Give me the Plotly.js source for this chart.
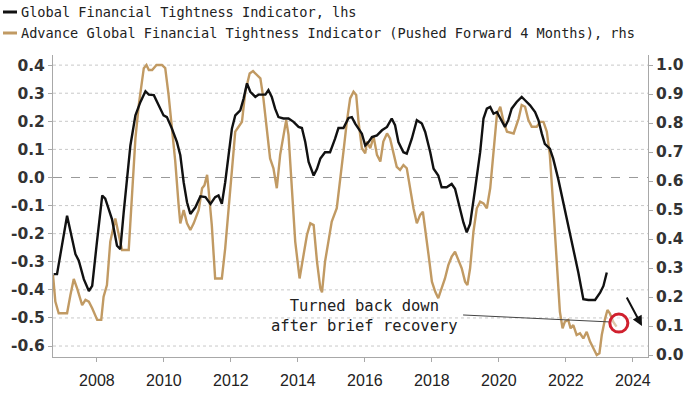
<!DOCTYPE html>
<html>
<head>
<meta charset="utf-8">
<script src="https://cdn.plot.ly/plotly-3.0.1.min.js"></script>
<style>html,body{margin:0;padding:0;background:#fff;}#chart{width:700px;height:394px;}</style>
</head>
<body>
<div id="chart"></div>
<script>
// Global Financial Tightness Indicator (lhs)
const gftiYears = [2006.71,2006.81,2007.11,2007.36,2007.46,2007.61,2007.76,2007.86,2008.00,2008.16,2008.25,2008.35,2008.45,2008.60,2008.70,2008.80,2008.90,2009.00,2009.15,2009.30,2009.45,2009.55,2009.70,2009.84,2009.99,2010.09,2010.24,2010.39,2010.49,2010.59,2010.69,2010.79,2010.94,2011.09,2011.24,2011.39,2011.53,2011.63,2011.73,2011.83,2011.93,2012.03,2012.13,2012.28,2012.38,2012.48,2012.58,2012.73,2012.83,2013.03,2013.12,2013.22,2013.32,2013.42,2013.57,2013.72,2013.87,2014.02,2014.12,2014.22,2014.32,2014.47,2014.57,2014.67,2014.81,2014.96,2015.11,2015.21,2015.36,2015.51,2015.61,2015.71,2015.91,2016.01,2016.11,2016.21,2016.36,2016.51,2016.66,2016.80,2016.90,2017.00,2017.15,2017.25,2017.40,2017.55,2017.70,2017.80,2017.95,2018.05,2018.19,2018.29,2018.44,2018.59,2018.69,2018.84,2018.94,2019.04,2019.14,2019.29,2019.44,2019.54,2019.64,2019.74,2019.84,2019.94,2020.04,2020.18,2020.28,2020.38,2020.53,2020.68,2020.78,2020.93,2021.08,2021.18,2021.28,2021.37,2021.52,2021.62,2021.77,2021.92,2022.07,2022.22,2022.37,2022.52,2022.67,2022.87,2023.02,2023.12,2023.22];
const gftiValues = [-0.344,-0.344,-0.136,-0.273,-0.296,-0.362,-0.404,-0.386,-0.231,-0.064,-0.075,-0.112,-0.148,-0.243,-0.255,-0.124,-0.005,0.114,0.221,0.269,0.307,0.295,0.293,0.257,0.221,0.215,0.174,0.126,0.079,-0.017,-0.088,-0.130,-0.106,-0.067,-0.070,-0.094,-0.070,-0.064,-0.094,-0.017,0.090,0.174,0.221,0.239,0.281,0.335,0.305,0.287,0.295,0.295,0.311,0.287,0.245,0.215,0.210,0.210,0.198,0.180,0.176,0.126,0.055,0.007,0.031,0.067,0.090,0.090,0.138,0.176,0.176,0.212,0.215,0.192,0.156,0.114,0.126,0.144,0.150,0.168,0.180,0.210,0.186,0.126,0.090,0.085,0.138,0.204,0.192,0.162,0.090,0.031,0.007,-0.035,-0.035,-0.023,-0.040,-0.112,-0.160,-0.195,-0.165,-0.040,0.090,0.210,0.245,0.251,0.227,0.233,0.210,0.180,0.204,0.245,0.269,0.287,0.275,0.257,0.233,0.204,0.156,0.120,0.103,0.067,-0.005,-0.088,-0.171,-0.243,-0.338,-0.433,-0.436,-0.436,-0.410,-0.386,-0.338];

// Advance Global Financial Tightness Indicator, pushed forward 4 months (rhs)
const advYears = [2006.69,2006.76,2006.86,2007.11,2007.21,2007.31,2007.41,2007.56,2007.66,2007.76,2007.86,2008.01,2008.13,2008.20,2008.30,2008.40,2008.55,2008.65,2008.75,2008.95,2009.05,2009.15,2009.25,2009.40,2009.48,2009.55,2009.65,2009.78,2009.94,2010.04,2010.14,2010.24,2010.34,2010.44,2010.49,2010.59,2010.69,2010.79,2010.89,2011.04,2011.14,2011.21,2011.29,2011.33,2011.43,2011.53,2011.73,2011.83,2011.93,2012.03,2012.13,2012.23,2012.33,2012.43,2012.56,2012.66,2012.76,2012.88,2012.97,2013.08,2013.17,2013.27,2013.37,2013.47,2013.57,2013.65,2013.72,2013.82,2013.92,2014.05,2014.17,2014.27,2014.37,2014.47,2014.57,2014.67,2014.72,2014.81,2014.91,2015.01,2015.16,2015.26,2015.36,2015.46,2015.56,2015.66,2015.74,2015.81,2015.91,2016.01,2016.06,2016.16,2016.26,2016.36,2016.46,2016.55,2016.66,2016.75,2016.85,2016.95,2017.05,2017.15,2017.25,2017.35,2017.45,2017.55,2017.65,2017.73,2017.80,2017.90,2018.00,2018.10,2018.19,2018.29,2018.39,2018.49,2018.59,2018.69,2018.79,2018.89,2018.99,2019.06,2019.14,2019.24,2019.34,2019.44,2019.54,2019.64,2019.74,2019.84,2019.94,2020.04,2020.14,2020.24,2020.44,2020.59,2020.68,2020.78,2020.88,2020.98,2021.13,2021.23,2021.33,2021.43,2021.52,2021.62,2021.72,2021.82,2021.90,2021.97,2022.07,2022.14,2022.22,2022.32,2022.42,2022.52,2022.62,2022.72,2022.82,2022.92,2023.00,2023.07,2023.17,2023.24,2023.31,2023.41,2023.51];
const advValues = [0.276,0.184,0.144,0.144,0.207,0.262,0.230,0.172,0.190,0.184,0.161,0.121,0.121,0.201,0.241,0.391,0.471,0.414,0.362,0.362,0.552,0.747,0.862,0.989,1.000,0.983,0.983,1.000,1.000,0.989,0.897,0.782,0.667,0.517,0.454,0.500,0.454,0.431,0.454,0.500,0.575,0.585,0.621,0.575,0.448,0.264,0.264,0.368,0.494,0.632,0.770,0.787,0.804,0.908,0.971,0.979,0.966,0.954,0.885,0.770,0.678,0.644,0.575,0.690,0.759,0.810,0.759,0.575,0.391,0.264,0.345,0.414,0.454,0.448,0.322,0.230,0.216,0.322,0.391,0.460,0.506,0.598,0.701,0.804,0.885,0.908,0.897,0.804,0.713,0.695,0.736,0.713,0.753,0.690,0.667,0.736,0.764,0.747,0.701,0.649,0.638,0.655,0.644,0.575,0.506,0.454,0.483,0.494,0.425,0.345,0.253,0.218,0.196,0.230,0.264,0.310,0.339,0.356,0.328,0.299,0.253,0.241,0.299,0.425,0.506,0.529,0.523,0.506,0.575,0.713,0.828,0.856,0.804,0.770,0.764,0.816,0.862,0.856,0.810,0.787,0.787,0.804,0.804,0.770,0.690,0.517,0.322,0.149,0.092,0.115,0.121,0.092,0.103,0.069,0.075,0.057,0.080,0.046,0.023,0.000,0.006,0.069,0.126,0.155,0.144,0.115,0.098];

const xTickVals = [2008,2010,2012,2014,2016,2018,2020,2022,2024];
const xTickText = ['2008','2010','2012','2014','2016','2018','2020','2022','2024'];
const lhsTickVals = [0.4,0.3,0.2,0.1,0.0,-0.1,-0.2,-0.3,-0.4,-0.5,-0.6];
const lhsTickText = ['0.4','0.3','0.2','0.1','0.0','-0.1','-0.2','-0.3','-0.4','-0.5','-0.6'];
const rhsTickVals = [1.0,0.9,0.8,0.7,0.6,0.5,0.4,0.3,0.2,0.1,0.0];
const rhsTickText = ['1.0','0.9','0.8','0.7','0.6','0.5','0.4','0.3','0.2','0.1','0.0'];

const seriesNames = ['Global Financial Tightness Indicator, lhs',
  'Advance Global Financial Tightness Indicator (Pushed Forward 4 Months), rhs'];
const noteText = 'Turned back down<br>after brief recovery';

const BLACK = '#111111';
const GOLD = '#c19a63';
const AXIS = '#a8a8a8';

const traces = [
  {x: advYears, y: advValues, yaxis: 'y', type: 'scatter', mode: 'lines', name: seriesNames[1],
   line: {color: GOLD, width: 2.4}, hoverinfo: 'skip'},
  {x: gftiYears, y: gftiValues, yaxis: 'y2', type: 'scatter', mode: 'lines', name: seriesNames[0],
   line: {color: BLACK, width: 2.4}, hoverinfo: 'skip'}
];

const L = 53, R = 52, T = 55, B = 37, W = 700, H = 394;
const pw = W - L - R, ph = H - T - B;
const px = v => (v - L) / pw;           // page pixel -> paper x
const py = v => (H - B - v) / ph;       // page pixel -> paper y

const legendFont = {family: 'DejaVu Sans Mono', size: 13.6, color: '#222'};
const tickFontY = {family: 'DejaVu Sans', size: 15.5, color: '#333', weight: 'bold'};

// dotted horizontal gridlines at the lhs ticks (zero line dashed)
const gridShapes = lhsTickVals.map(v => ({
  type: 'line', xref: 'paper', yref: 'y2', x0: 0, x1: 1, y0: v, y1: v, layer: 'below',
  line: v === 0 ? {color: '#999', width: 1, dash: 'dash'} : {color: '#c8c8c8', width: 1, dash: 'dot'}
}));

const layout = {
  width: W, height: H,
  margin: {l: L, r: R, t: T, b: B, pad: 0},
  paper_bgcolor: '#ffffff', plot_bgcolor: '#ffffff',
  showlegend: false,
  xaxis: {
    range: [2006.69, 2024.45], tickvals: xTickVals, ticktext: xTickText,
    showgrid: false, zeroline: false, showline: true, linecolor: AXIS, linewidth: 1,
    ticks: 'outside', ticklen: 4, tickcolor: AXIS, ticklabelstandoff: 5,
    tickfont: {family: 'Liberation Sans', size: 16, color: '#222'}
  },
  yaxis: {
    side: 'right', range: [-0.0069, 1.0345], tickvals: rhsTickVals, ticktext: rhsTickText,
    showgrid: false, zeroline: false, showline: true, linecolor: AXIS, linewidth: 1,
    ticks: 'outside', ticklen: 4, tickcolor: AXIS,
    tickfont: tickFontY
  },
  yaxis2: {
    side: 'left', overlaying: 'y', range: [-0.639, 0.436], tickvals: lhsTickVals, ticktext: lhsTickText,
    showgrid: false, zeroline: false, showline: true, linecolor: AXIS, linewidth: 1,
    ticks: 'outside', ticklen: 4, tickcolor: AXIS,
    tickfont: tickFontY
  },
  shapes: gridShapes.concat([
    {type: 'line', xref: 'x', yref: 'y', x0: 2018.93, y0: 0.138, x1: 2023.31, y1: 0.114,
     line: {color: '#444', width: 1}},
    {type: 'circle', xref: 'x', yref: 'y', x0: 2023.31, x1: 2023.85, y0: 0.079, y1: 0.141,
     line: {color: '#d0202e', width: 3}, fillcolor: 'rgba(255,255,255,0.45)'},
    {type: 'line', xref: 'paper', yref: 'paper', x0: px(3), x1: px(17), y0: py(12), y1: py(12),
     line: {color: BLACK, width: 3}},
    {type: 'line', xref: 'paper', yref: 'paper', x0: px(3), x1: px(17), y0: py(33), y1: py(33),
     line: {color: GOLD, width: 3}}
  ]),
  annotations: [
    {xref: 'paper', yref: 'paper', x: px(19), y: py(12), xanchor: 'left', yanchor: 'middle',
     text: seriesNames[0], showarrow: false, font: legendFont},
    {xref: 'paper', yref: 'paper', x: px(19), y: py(33), xanchor: 'left', yanchor: 'middle',
     text: seriesNames[1], showarrow: false, font: legendFont},
    {xref: 'x', yref: 'y', x: 2015.98, y: 0.134, xanchor: 'center', yanchor: 'middle', align: 'center',
     text: noteText, showarrow: false,
     font: {family: 'DejaVu Sans Mono', size: 15.5, color: '#222'}},
    {xref: 'x', yref: 'y', x: 2024.27, y: 0.100, ax: -16, ay: -30, text: '',
     showarrow: true, arrowhead: 2, arrowsize: 1, arrowwidth: 2, arrowcolor: BLACK}
  ]
};

Plotly.newPlot('chart', traces, layout, {staticPlot: true, displayModeBar: false});
</script>
</body>
</html>
